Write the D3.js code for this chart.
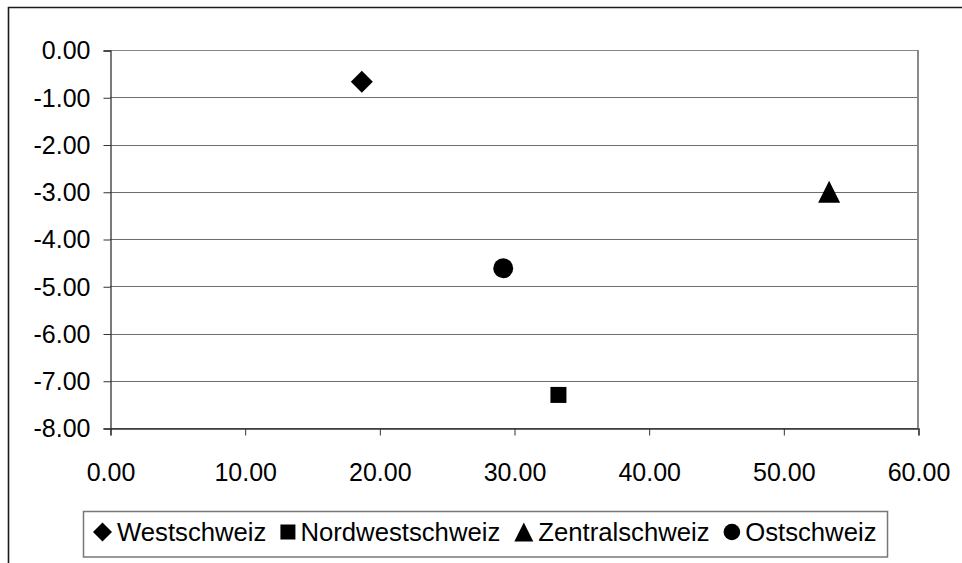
<!DOCTYPE html>
<html>
<head>
<meta charset="utf-8">
<script src="https://cdn.jsdelivr.net/npm/d3@7"></script>
<style>
  html, body { margin: 0; padding: 0; background: #fff; }
  svg { display: block; }
  text { font-family: "Liberation Sans", Arial, sans-serif; font-size: 25px; fill: #000; }
</style>
</head>
<body>
<svg id="chart" width="962" height="563"></svg>
<script>
// Regions and their (x, y) positions
const regions = ["Westschweiz", "Nordwestschweiz", "Zentralschweiz", "Ostschweiz"];
const xValues = [18.7, 33.3, 53.4, 29.2];
const yValues = [-0.67, -7.3, -3.0, -4.62];
const shapes  = ["diamond", "square", "triangle", "circle"];
const xTicks = [0, 10, 20, 30, 40, 50, 60];
const yTicks = [0, -1, -2, -3, -4, -5, -6, -7, -8];

const svg = d3.select("#chart");
const W = 962, H = 563;
const plot = { left: 110, right: 918, top: 50, bottom: 428 };

const x = d3.scaleLinear().domain([0, 60]).range([plot.left, plot.right]);
const y = d3.scaleLinear().domain([-8, 0]).range([plot.bottom, plot.top]);

// Two decimals with a plain hyphen for negatives
const fmt = d => d.toFixed(2);

// Marker outline centred at the origin; s is the half-size
function markerPath(shape, s) {
  switch (shape) {
    case "diamond": return `M0,${-s}L${s},0L0,${s}L${-s},0Z`;
    case "square": return `M${-s},${-s}H${s}V${s}H${-s}Z`;
    case "triangle": return `M0,${-s}L${s},${s}H${-s}Z`;
    case "circle": return `M${s},0A${s},${s} 0 1,1 ${-s},0A${s},${s} 0 1,1 ${s},0Z`;
  }
}
const plotSize = { diamond: 11, square: 8, triangle: 11, circle: 10 };
const legendSize = { diamond: 9.5, square: 7.5, triangle: 9.5, circle: 8.3 };

// Outer chart frame (open on the right and bottom)
svg.append("path")
  .attr("d", `M8.5,${H}V7.5H${W}`)
  .attr("fill", "none").attr("stroke", "#1a1a1a").attr("stroke-width", 1.6);

// Horizontal gridlines
svg.append("g").selectAll("line").data(yTicks).join("line")
  .attr("x1", plot.left).attr("x2", plot.right)
  .attr("y1", d => Math.round(y(d)) + 0.5).attr("y2", d => Math.round(y(d)) + 0.5)
  .attr("stroke", d => d === 0 ? "#888" : "#6e6e6e").attr("stroke-width", 1.2);

// Plot area right border
svg.append("line")
  .attr("x1", plot.right).attr("x2", plot.right)
  .attr("y1", plot.top).attr("y2", plot.bottom)
  .attr("stroke", "#8a8a8a").attr("stroke-width", 2);

// Y axis
const yAxis = d3.axisLeft(y).tickValues(yTicks).tickFormat(fmt)
  .tickSize(7).tickPadding(13);
const gy = svg.append("g").attr("transform", `translate(${plot.left + 0.5},0.5)`).call(yAxis);
gy.select(".domain").attr("stroke", "#333").attr("stroke-width", 1.3);
gy.selectAll(".tick line").attr("stroke", "#333");
gy.selectAll("text").attr("font-size", 25).attr("font-family", null).attr("dy", "0.33em");

// X axis
const xAxis = d3.axisBottom(x).tickValues(xTicks).tickFormat(fmt)
  .tickSize(7).tickPadding(28);
const gx = svg.append("g").attr("transform", `translate(0.5,${plot.bottom + 0.5})`).call(xAxis);
gx.select(".domain").attr("stroke", "#333").attr("stroke-width", 1.3);
gx.selectAll(".tick line").attr("stroke", "#333");
gx.selectAll("text").attr("font-size", 25).attr("font-family", null).attr("dy", "0.71em");

// Data markers
svg.append("g").selectAll("path").data(regions).join("path")
  .attr("transform", (d, i) => `translate(${x(xValues[i])},${y(yValues[i])})`)
  .attr("d", (d, i) => markerPath(shapes[i], plotSize[shapes[i]]))
  .attr("fill", "#000");

// Legend
const legend = svg.append("g");
const legendBox = legend.append("rect")
  .attr("fill", "#fff").attr("stroke", "#777").attr("stroke-width", 1.5);
const baseline = 541;
let cursor = 93;
regions.forEach((name, i) => {
  const s = legendSize[shapes[i]];
  legend.append("path")
    .attr("transform", `translate(${cursor + s},${baseline - 9})`)
    .attr("d", markerPath(shapes[i], s))
    .attr("fill", "#000");
  const t = legend.append("text")
    .attr("x", cursor + 2 * s + 5).attr("y", baseline)
    .style("font-size", "25.7px").text(name);
  cursor = cursor + 2 * s + 5 + t.node().getComputedTextLength() + 14;
});
legendBox.attr("x", 83.5).attr("y", 511.5)
  .attr("width", cursor - 14 + 11 - 83.5).attr("height", 45.5);
</script>
</body>
</html>
